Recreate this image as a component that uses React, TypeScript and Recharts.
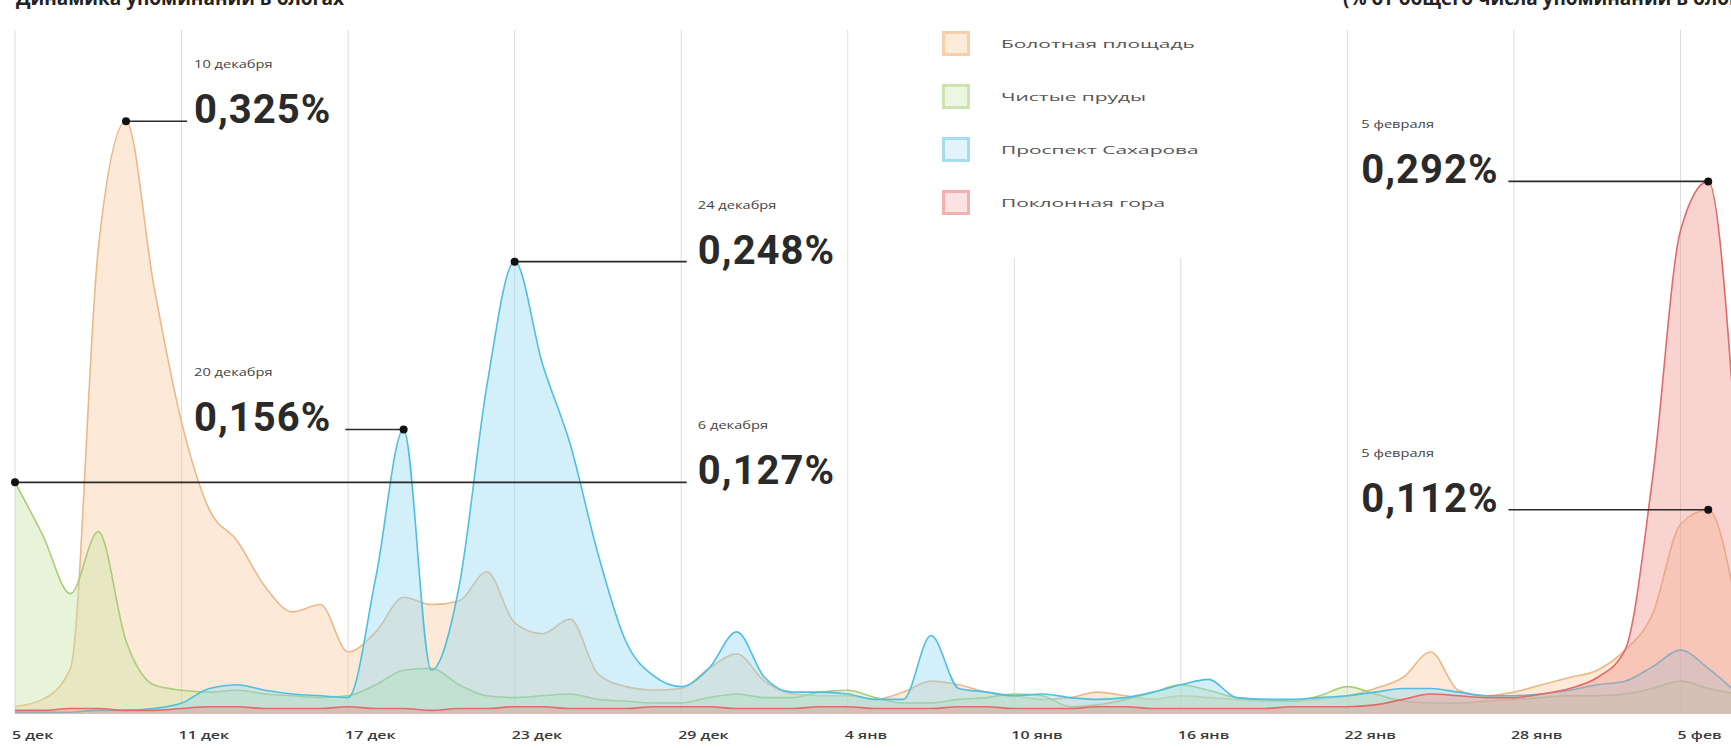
import { AreaChart, Area, XAxis, YAxis, CartesianGrid, ReferenceLine, ReferenceDot, Legend } from 'recharts'

// Share of blog mentions, % — one value per day, day 0 = 6 December
const BOLOTNAYA = [
  0.004, 0.008, 0.025, 0.255, 0.325, 0.235, 0.16, 0.112, 0.095, 0.07,
  0.056, 0.06, 0.034, 0.045, 0.064, 0.06, 0.062, 0.078, 0.05, 0.044,
  0.052, 0.022, 0.015, 0.013, 0.014, 0.025, 0.033, 0.018, 0.011, 0.01,
  0.01, 0.008, 0.012, 0.018, 0.016, 0.012, 0.01, 0.008, 0.009, 0.012,
  0.01, 0.008, 0.01, 0.009, 0.008, 0.007, 0.007, 0.008, 0.01, 0.014,
  0.02, 0.034, 0.013, 0.01, 0.012, 0.016, 0.02, 0.024, 0.035, 0.055,
  0.104, 0.112, 0.06,
]
const CHISTYE = [
  0.127, 0.098, 0.066, 0.1, 0.04, 0.016, 0.013, 0.012, 0.013, 0.011,
  0.01, 0.009, 0.01, 0.016, 0.024, 0.025, 0.016, 0.01, 0.009, 0.01,
  0.011, 0.008, 0.007, 0.006, 0.006, 0.009, 0.011, 0.009, 0.009, 0.012,
  0.013, 0.009, 0.006, 0.006, 0.008, 0.009, 0.011, 0.01, 0.004, 0.005,
  0.008, 0.012, 0.016, 0.013, 0.009, 0.008, 0.007, 0.01, 0.015, 0.011,
  0.007, 0.006, 0.006, 0.007, 0.008, 0.009, 0.01, 0.01, 0.011, 0.014,
  0.018, 0.014, 0.011,
]
const SAKHAROVA = [
  0.001, 0.001, 0.001, 0.002, 0.002, 0.003, 0.006, 0.014, 0.016, 0.013,
  0.011, 0.01, 0.009, 0.075, 0.156, 0.024, 0.07, 0.18, 0.248, 0.192,
  0.148, 0.088, 0.04, 0.021, 0.015, 0.025, 0.045, 0.02, 0.012, 0.012,
  0.011, 0.008, 0.008, 0.043, 0.014, 0.012, 0.01, 0.011, 0.009, 0.008,
  0.009, 0.012, 0.016, 0.019, 0.009, 0.008, 0.008, 0.009, 0.01, 0.012,
  0.014, 0.014, 0.012, 0.01, 0.01, 0.011, 0.013, 0.016, 0.018, 0.026,
  0.035, 0.025, 0.012,
]
const POKLONNAYA = [
  0.002, 0.002, 0.003, 0.003, 0.002, 0.002, 0.003, 0.004, 0.004, 0.003,
  0.003, 0.003, 0.004, 0.003, 0.003, 0.002, 0.003, 0.003, 0.004, 0.004,
  0.003, 0.003, 0.003, 0.004, 0.004, 0.004, 0.003, 0.003, 0.003, 0.004,
  0.004, 0.003, 0.003, 0.003, 0.004, 0.004, 0.003, 0.003, 0.003, 0.004,
  0.004, 0.003, 0.003, 0.003, 0.003, 0.003, 0.004, 0.004, 0.004, 0.005,
  0.008, 0.011, 0.01, 0.009, 0.009, 0.011, 0.014, 0.02, 0.035, 0.13,
  0.265, 0.292, 0.15,
]

const TICK_DAYS = [0, 6, 12, 18, 24, 30, 36, 42, 48, 54, 60]
const TICK_LABELS = ['5 дек', '11 дек', '17 дек', '23 дек', '29 дек', '4 янв', '10 янв', '16 янв', '22 янв', '28 янв', '5 фев']

// dot (day, value), connector runs to lineTo, text starts at textAt (days)
const ANNOTATIONS = [
  { day: 4, value: 0.325, date: '10 декабря', text: '0,325%', lineTo: 6.2, textAt: 6.45 },
  { day: 14, value: 0.156, date: '20 декабря', text: '0,156%', lineTo: 11.9, textAt: 6.45 },
  { day: 18, value: 0.248, date: '24 декабря', text: '0,248%', lineTo: 24.2, textAt: 24.6 },
  { day: 0, value: 0.127, date: '6 декабря', text: '0,127%', lineTo: 24.2, textAt: 24.6 },
  { day: 61, value: 0.292, date: '5 февраля', text: '0,292%', lineTo: 53.8, textAt: 48.5 },
  { day: 61, value: 0.112, date: '5 февраля', text: '0,112%', lineTo: 53.8, textAt: 48.5 },
]

const SERIES = [
  { key: 'bolotnaya', name: 'Болотная площадь', stroke: '#e9b98a', fill: '#f9c89a', box: '#f6cfa8', boxFill: '#fdebd9' },
  { key: 'chistye', name: 'Чистые пруды', stroke: '#a9cc7a', fill: '#c5e3a0', box: '#cbe4ad', boxFill: '#edf6e2' },
  { key: 'sakharova', name: 'Проспект Сахарова', stroke: '#4fbfe0', fill: '#8fd8f2', box: '#a6dcf0', boxFill: '#e2f4fb' },
  { key: 'poklonnaya', name: 'Поклонная гора', stroke: '#e26a68', fill: '#f0908a', box: '#f2b0b0', boxFill: '#fbe3e3' },
]

const rows = BOLOTNAYA.map((v, i) => ({
  day: i,
  bolotnaya: v,
  chistye: CHISTYE[i],
  sakharova: SAKHAROVA[i],
  poklonnaya: POKLONNAYA[i],
}))

const SMALL_FONT = "'Open Sans', 'DejaVu Sans', sans-serif"
const BIG_FONT = "Roboto, 'Liberation Sans', sans-serif"

function DayTick({ x, y, payload }: any) {
  const i = TICK_DAYS.indexOf(payload.value)
  return (
    <text
      transform={`translate(${Math.max(x - 3, 12)},${y + 17}) scale(1.45,1)`}
      fontSize={11}
      fontWeight={600}
      fontFamily={SMALL_FONT}
      fill="#3a3a3a"
    >
      {TICK_LABELS[i]}
    </text>
  )
}

function LegendBox() {
  return (
    <div style={{ paddingTop: 17 }}>
      {SERIES.map((s) => (
        <div key={s.key} style={{ display: 'flex', alignItems: 'center', height: 53 }}>
          <div
            style={{
              width: 22,
              height: 19,
              border: `3px solid ${s.box}`,
              background: s.boxFill,
              marginLeft: 17,
            }}
          />
          <span
            style={{
              display: 'inline-block',
              marginLeft: 31,
              fontSize: 11,
              fontFamily: SMALL_FONT,
              color: '#555',
              transform: 'scaleX(1.9)',
              transformOrigin: 'left center',
              whiteSpace: 'nowrap',
            }}
          >
            {s.name}
          </span>
        </div>
      ))}
    </div>
  )
}

function makeLabel(date: string, text: string) {
  return ({ cx, cy }: any) => (
    <g>
      <text
        transform={`translate(${cx},${cy - 53}) scale(1.33,1)`}
        fontSize={11}
        fontFamily={SMALL_FONT}
        fill="#444"
      >
        {date}
      </text>
      <text
        x={cx}
        y={cy + 2}
        fontSize={40}
        fontWeight={700}
        letterSpacing={1}
        fontFamily={BIG_FONT}
        fill="#2a2a2a"
      >
        {text}
      </text>
    </g>
  )
}

export default function App() {
  return (
    <div
      style={{
        position: 'absolute',
        left: 0,
        top: 0,
        width: 1731,
        height: 748,
        overflow: 'hidden',
        background: '#fff',
      }}
    >
      <div
        style={{
          position: 'absolute',
          left: 16,
          top: -15,
          fontFamily: SMALL_FONT,
          fontWeight: 700,
          fontSize: 19,
          color: '#222',
          whiteSpace: 'nowrap',
          zIndex: 2,
        }}
      >
        Динамика упоминаний в блогах
      </div>
      <div
        style={{
          position: 'absolute',
          left: 1343,
          top: -15,
          fontFamily: SMALL_FONT,
          fontWeight: 700,
          fontSize: 19,
          color: '#222',
          whiteSpace: 'nowrap',
          zIndex: 2,
        }}
      >
        (% от общего числа упоминаний в блогах)
      </div>
      <AreaChart width={1736} height={748} data={rows} margin={{ top: 30, right: 0, bottom: 0, left: 15 }}>
        <CartesianGrid vertical horizontal={false} stroke="#dcdcdc" />
        <XAxis
          dataKey="day"
          type="number"
          domain={[0, 62]}
          ticks={TICK_DAYS}
          interval={0}
          axisLine={false}
          tickLine={false}
          height={34}
          tick={<DayTick />}
        />
        <YAxis hide type="number" domain={[0, 0.375]} />
        {SERIES.map((s) => (
          <Area
            key={s.key}
            dataKey={s.key}
            name={s.name}
            type="monotone"
            stroke={s.stroke}
            strokeWidth={1.6}
            fill={s.fill}
            fillOpacity={0.4}
            dot={false}
            activeDot={false}
            isAnimationActive={false}
          />
        ))}
        {ANNOTATIONS.map((a, i) => (
          <ReferenceLine
            key={`l${i}`}
            segment={[
              { x: a.day, y: a.value },
              { x: a.lineTo, y: a.value },
            ]}
            stroke="#2b2b2b"
            strokeWidth={1.6}
          />
        ))}
        {ANNOTATIONS.map((a, i) => (
          <ReferenceDot key={`d${i}`} x={a.day} y={a.value} r={4} fill="#111" stroke="none" />
        ))}
        {ANNOTATIONS.map((a, i) => (
          <ReferenceDot key={`t${i}`} x={a.textAt} y={a.value} r={0} shape={makeLabel(a.date, a.text)} />
        ))}
        <Legend
          layout="vertical"
          align="center"
          verticalAlign="middle"
          wrapperStyle={{ left: 925, top: 0, width: 300, height: 258, background: '#fff' }}
          content={() => <LegendBox />}
        />
      </AreaChart>
    </div>
  )
}
